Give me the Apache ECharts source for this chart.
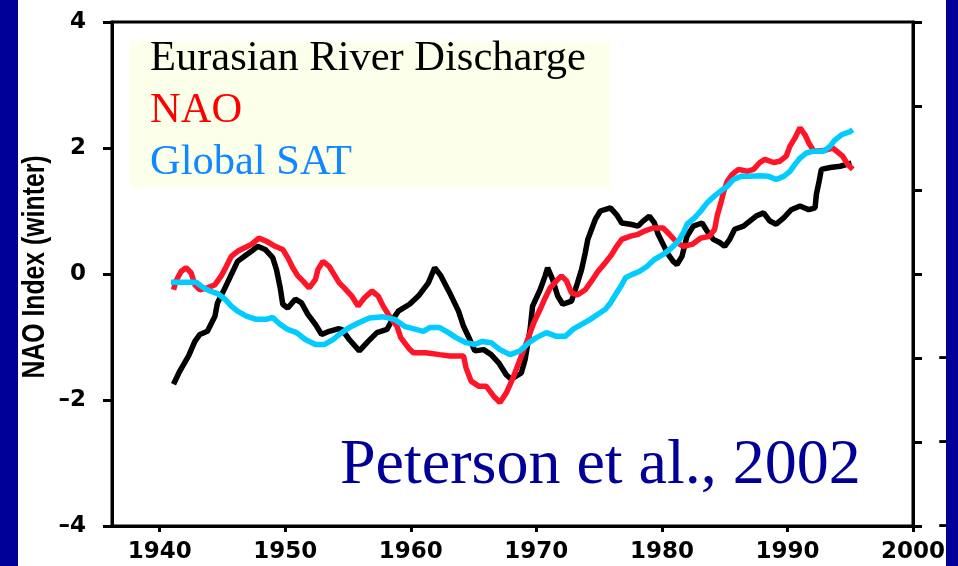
<!DOCTYPE html>
<html>
<head>
<meta charset="utf-8">
<script src="https://cdn.jsdelivr.net/npm/echarts@6/dist/echarts.min.js"></script>
<style>html,body{margin:0;padding:0;background:#fff;}#c{width:958px;height:566px;}</style>
</head>
<body>
<div id="c"></div>
<script>
// ---- data ----
const xTickYears = [1940, 1950, 1960, 1970, 1980, 1990, 2000];
const seriesNames = ['Eurasian River Discharge', 'NAO', 'Global SAT'];
const yTitle = 'NAO Index (winter)';

const dischargeYears = [1941.1,1941.6,1942.3,1942.8,1943.2,1943.8,1944.4,1944.6,1945.2,1945.7,1946.2,1946.8,1947.3,1947.8,1948.4,1949.0,1949.3,1949.6,1949.8,1950.2,1950.8,1951.3,1951.8,1952.4,1952.9,1953.5,1954.2,1954.5,1955.1,1955.9,1956.6,1957.3,1958.1,1958.4,1959.0,1959.9,1960.6,1961.4,1961.9,1962.4,1963.1,1963.8,1964.2,1964.7,1965.1,1965.8,1966.4,1967.0,1967.6,1968.0,1968.8,1969.1,1969.5,1969.7,1970.3,1970.7,1970.9,1971.3,1971.7,1972.1,1972.8,1973.2,1973.6,1973.9,1974.1,1974.4,1974.7,1975.1,1975.9,1976.4,1976.8,1977.5,1978.1,1978.5,1979.0,1979.4,1979.7,1980.1,1980.5,1980.9,1981.2,1981.6,1982.0,1982.5,1983.2,1983.6,1984.1,1984.6,1985.0,1985.4,1985.8,1986.5,1987.0,1987.5,1988.1,1988.6,1989.1,1989.7,1990.3,1991.0,1991.7,1992.2,1992.3,1992.5,1992.7,1993.4,1994.2,1995.1];
const dischargeValues = [-1.75,-1.54,-1.30,-1.07,-0.96,-0.91,-0.67,-0.46,-0.22,-0.01,0.20,0.29,0.36,0.44,0.39,0.26,0.07,-0.22,-0.48,-0.54,-0.40,-0.46,-0.64,-0.80,-0.96,-0.91,-0.87,-0.88,-1.04,-1.22,-1.07,-0.93,-0.88,-0.77,-0.59,-0.48,-0.35,-0.14,0.10,-0.03,-0.30,-0.59,-0.83,-1.04,-1.22,-1.20,-1.28,-1.41,-1.60,-1.67,-1.57,-1.36,-0.88,-0.51,-0.25,-0.03,0.10,-0.09,-0.35,-0.48,-0.43,-0.19,0.07,0.34,0.55,0.71,0.87,1.00,1.05,0.94,0.81,0.79,0.76,0.84,0.92,0.81,0.63,0.47,0.31,0.20,0.15,0.28,0.60,0.76,0.81,0.68,0.55,0.50,0.44,0.55,0.71,0.76,0.84,0.92,0.97,0.84,0.79,0.89,1.02,1.08,1.02,1.05,1.26,1.45,1.66,1.69,1.71,1.76];

const naoYears = [1941.1,1941.3,1941.7,1942.1,1942.5,1942.8,1943.2,1943.8,1944.4,1944.9,1945.3,1945.7,1946.2,1946.8,1947.3,1947.9,1948.5,1949.2,1949.8,1950.2,1950.6,1951.0,1951.4,1951.9,1952.4,1952.6,1953.0,1953.5,1953.9,1954.3,1954.7,1955.3,1955.8,1956.3,1956.9,1957.4,1957.8,1958.3,1958.9,1959.2,1959.8,1960.2,1961.2,1962.3,1963.1,1964.2,1964.4,1964.8,1965.4,1966.0,1966.6,1967.1,1967.6,1968.1,1968.6,1969.1,1969.4,1969.8,1970.3,1970.7,1971.1,1971.6,1972.0,1972.4,1972.8,1973.3,1973.9,1974.4,1974.9,1975.5,1976.0,1976.4,1976.8,1977.5,1978.1,1978.6,1979.3,1980.1,1980.6,1981.2,1981.7,1982.4,1983.1,1983.8,1984.2,1984.4,1984.7,1984.9,1985.2,1985.6,1986.1,1986.8,1987.3,1987.8,1988.2,1988.9,1989.4,1989.9,1990.2,1990.6,1991.0,1991.4,1991.7,1992.1,1992.9,1993.6,1994.4,1994.8,1995.2];
const naoValues = [-0.25,-0.11,0.04,0.10,0.02,-0.17,-0.25,-0.22,-0.17,-0.03,0.12,0.28,0.36,0.42,0.47,0.57,0.52,0.44,0.39,0.26,0.10,-0.03,-0.11,-0.22,-0.09,0.07,0.20,0.12,-0.01,-0.14,-0.22,-0.35,-0.51,-0.38,-0.27,-0.35,-0.51,-0.67,-0.83,-1.01,-1.17,-1.25,-1.25,-1.28,-1.30,-1.30,-1.49,-1.70,-1.78,-1.78,-1.94,-2.04,-1.89,-1.67,-1.41,-1.15,-0.99,-0.77,-0.56,-0.38,-0.22,-0.11,-0.03,-0.11,-0.30,-0.33,-0.25,-0.11,0.04,0.18,0.31,0.44,0.55,0.60,0.63,0.68,0.73,0.73,0.63,0.50,0.44,0.47,0.57,0.60,0.71,0.92,1.13,1.29,1.47,1.58,1.66,1.63,1.66,1.77,1.82,1.77,1.79,1.87,2.03,2.16,2.32,2.21,2.08,1.95,1.96,2.00,1.87,1.74,1.66];

const satYears = [1940.9,1942.9,1943.5,1944.0,1944.6,1945.2,1945.7,1946.2,1946.9,1947.7,1948.5,1949.0,1949.6,1950.2,1950.9,1951.6,1952.4,1953.1,1953.8,1954.3,1955.1,1955.9,1956.7,1957.8,1958.7,1959.5,1960.4,1961.0,1961.5,1962.3,1963.0,1963.6,1964.4,1965.1,1965.7,1966.4,1967.1,1967.9,1968.7,1969.4,1970.0,1970.8,1971.6,1972.3,1972.9,1973.6,1974.3,1974.9,1975.5,1975.9,1976.3,1976.8,1977.1,1977.6,1978.2,1978.8,1979.4,1980.1,1980.8,1981.3,1981.7,1982.0,1982.6,1983.1,1983.6,1984.2,1984.7,1985.2,1985.7,1986.3,1987.0,1987.8,1988.5,1989.1,1989.7,1990.2,1990.6,1991.0,1991.5,1992.1,1992.9,1993.4,1993.8,1994.3,1995.0,1995.2];
const satValues = [-0.13,-0.13,-0.22,-0.27,-0.31,-0.40,-0.51,-0.59,-0.67,-0.72,-0.72,-0.69,-0.80,-0.88,-0.93,-1.04,-1.12,-1.12,-1.04,-0.96,-0.85,-0.77,-0.70,-0.68,-0.72,-0.83,-0.88,-0.91,-0.85,-0.85,-0.93,-1.01,-1.09,-1.12,-1.07,-1.09,-1.20,-1.28,-1.22,-1.09,-1.01,-0.93,-0.99,-0.99,-0.88,-0.80,-0.72,-0.64,-0.56,-0.46,-0.33,-0.17,-0.06,-0.01,0.04,0.12,0.23,0.31,0.42,0.52,0.65,0.79,0.89,1.00,1.13,1.24,1.32,1.39,1.50,1.55,1.55,1.56,1.55,1.50,1.55,1.63,1.74,1.84,1.92,1.95,1.95,2.03,2.13,2.21,2.26,2.29];

// ---- chart ----
const pair = (xs, ys) => xs.map((x, i) => [x, ys[i]]);
const dashFmt = v => (v < 0 ? '\u2013' + Math.abs(v) : String(v));
// right-hand labels are cut off by the page edge in the original: only the minus signs show
const rightFmt = v => (v < 0 ? '\u2013' : '');
const tickFont = { fontFamily: 'DejaVu Sans', fontWeight: 'bold', fontSize: 23, color: '#000' };

const chart = echarts.init(document.getElementById('c'), null, { renderer: 'canvas' });
chart.setOption({
  animation: false,
  backgroundColor: '#ffffff',
  title: {
    text: 'Peterson et al., 2002',
    left: 340, top: 434, padding: 0,
    textStyle: { fontFamily: 'Liberation Serif', fontWeight: 'normal', fontSize: 64, color: '#000099' }
  },
  legend: {
    orient: 'vertical',
    left: 130, top: 37,
    padding: [0, 23, 0, 15],
    itemGap: 9,
    itemWidth: 0, itemHeight: 0,
    icon: 'rect',
    selectedMode: false,
    textStyle: { fontFamily: 'Liberation Serif', fontSize: 42.5 },
    data: [
      { name: seriesNames[0], textStyle: { color: '#000000' } },
      { name: seriesNames[1], textStyle: { color: '#ff0000' } },
      { name: seriesNames[2], textStyle: { color: '#1188ff' } }
    ]
  },
  grid: { left: 112, right: 45, top: 22, bottom: 40, outerBoundsMode: 'none', containLabel: false,
    show: true, borderColor: '#000', borderWidth: 3, backgroundColor: 'transparent' },
  xAxis: {
    type: 'value', min: 1936.2, max: 2000,
    axisLine: { show: true, onZero: false, lineStyle: { color: '#000', width: 3 } },
    axisTick: { show: true, length: 6, lineStyle: { color: '#000', width: 3 }, customValues: xTickYears },
    axisLabel: Object.assign({ margin: 15, customValues: xTickYears, formatter: v => String(v) }, tickFont),
    splitLine: { show: false }
  },
  yAxis: [
    {
      type: 'value', min: -4, max: 4, interval: 2, position: 'left',
      axisLine: { show: true, lineStyle: { color: '#000', width: 3 } },
      axisTick: { show: true, length: 9, lineStyle: { color: '#000', width: 3 } },
      axisLabel: Object.assign({ margin: 26, formatter: dashFmt }, tickFont),
      splitLine: { show: false }
    },
    {
      type: 'value', min: -3, max: 3, interval: 1, position: 'right',
      axisLine: { show: true, lineStyle: { color: '#000', width: 3 } },
      axisTick: { show: true, length: 9, lineStyle: { color: '#000', width: 3 } },
      axisLabel: Object.assign({ margin: 25, align: 'left', formatter: rightFmt }, tickFont),
      splitLine: { show: false }
    }
  ],
  series: [
    { name: seriesNames[0], type: 'line', data: pair(dischargeYears, dischargeValues), showSymbol: false, symbol: 'none',
      lineStyle: { color: '#000000', width: 5.5 }, itemStyle: { color: '#000000' }, z: 2 },
    { name: seriesNames[1], type: 'line', data: pair(naoYears, naoValues), showSymbol: false, symbol: 'none',
      lineStyle: { color: '#ff1428', width: 5.5 }, itemStyle: { color: '#ff1428' }, z: 3 },
    { name: seriesNames[2], type: 'line', data: pair(satYears, satValues), showSymbol: false, symbol: 'none',
      lineStyle: { color: '#00ccff', width: 5.5 }, itemStyle: { color: '#00ccff' }, z: 4 }
  ],
  graphic: [
    { type: 'rect', left: 130, top: 41, z: 0, silent: true, shape: { width: 480, height: 147 }, style: { fill: '#fcffea' } },
    { type: 'text', x: 35, y: 267, rotation: Math.PI / 2, scaleX: 0.8, z: 10, silent: true,
      style: { text: yTitle, fill: '#000', font: 'bold 31px "Liberation Sans", Arial, sans-serif',
               align: 'center', verticalAlign: 'middle' } },
    { type: 'rect', left: 0, top: 0, z: 100, shape: { width: 18, height: 566 }, style: { fill: '#000099' } },
    { type: 'rect', left: 946, top: 0, z: 100, shape: { width: 12, height: 566 }, style: { fill: '#000099' } }
  ]
});
</script>
</body>
</html>
